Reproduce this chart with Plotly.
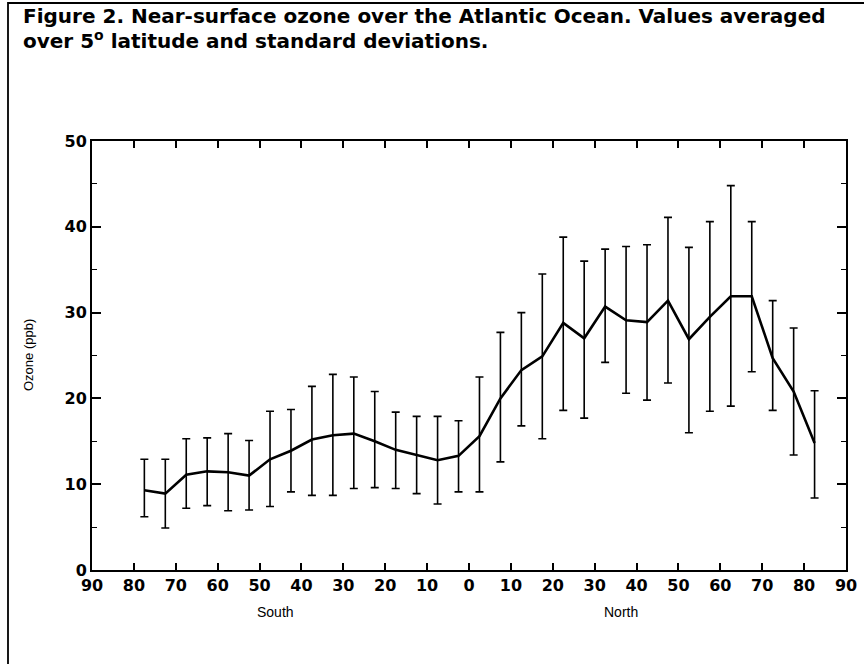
import plotly.graph_objects as go

# Latitude bin centres (negative = South)
latitude = [-77.5, -72.5, -67.5, -62.5, -57.5, -52.5, -47.5, -42.5, -37.5, -32.5, -27.5,
            -22.5, -17.5, -12.5, -7.5, -2.5, 2.5, 7.5, 12.5, 17.5, 22.5, 27.5, 32.5,
            37.5, 42.5, 47.5, 52.5, 57.5, 62.5, 67.5, 72.5, 77.5, 82.5]
ozone_mean = [9.3, 8.9, 11.1, 11.5, 11.4, 11.0, 12.9, 13.9, 15.2, 15.7, 15.9,
              15.0, 14.0, 13.4, 12.8, 13.3, 15.6, 20.0, 23.3, 24.9, 28.8, 27.0, 30.7,
              29.1, 28.9, 31.4, 26.9, 29.5, 31.9, 31.9, 24.7, 20.8, 14.8]
ozone_upper = [12.9, 12.9, 15.3, 15.4, 15.9, 15.1, 18.5, 18.7, 21.4, 22.8, 22.5,
               20.8, 18.4, 17.9, 17.9, 17.4, 22.5, 27.7, 30.0, 34.5, 38.8, 36.0, 37.4,
               37.7, 37.9, 41.1, 37.6, 40.6, 44.8, 40.6, 31.4, 28.2, 20.9]
ozone_lower = [6.2, 4.9, 7.2, 7.5, 6.9, 7.0, 7.4, 9.1, 8.7, 8.7, 9.5,
               9.6, 9.5, 8.9, 7.7, 9.1, 9.1, 12.6, 16.8, 15.3, 18.6, 17.7, 24.2,
               20.6, 19.8, 21.8, 16.0, 18.5, 19.1, 23.1, 18.6, 13.4, 8.4]

x_tick_vals = list(range(-90, 91, 10))
x_tick_text = ["90", "80", "70", "60", "50", "40", "30", "20", "10", "0",
               "10", "20", "30", "40", "50", "60", "70", "80", "90"]
y_tick_vals = [0, 10, 20, 30, 40, 50]

title_lines = ["Figure 2. Near-surface ozone over the Atlantic Ocean. Values averaged",
               "over 5<sup>o</sup> latitude and standard deviations."]

err_plus = [u - m for u, m in zip(ozone_upper, ozone_mean)]
err_minus = [m - l for m, l in zip(ozone_mean, ozone_lower)]

W, H = 864, 664
ML, MR, MT, MB = 92, 18, 141, 94
PW, PH = W - ML - MR, H - MT - MB


def px_x(p):
    return (p - ML) / PW


def px_y(p):
    return (H - MB - p) / PH


fig = go.Figure()
fig.add_trace(go.Scatter(
    x=latitude, y=ozone_mean, mode="lines",
    line=dict(color="black", width=2.6),
    error_y=dict(type="data", symmetric=False, array=err_plus, arrayminus=err_minus,
                 color="black", thickness=1.6, width=4),
    showlegend=False, hoverinfo="x+y",
))

tickfont = dict(family="DejaVu Sans, sans-serif", size=16, color="black", weight="bold")

fig.update_layout(
    width=W, height=H,
    margin=dict(l=ML, r=MR, t=MT, b=MB, pad=0),
    paper_bgcolor="white", plot_bgcolor="white",
    xaxis=dict(
        range=[-90, 90], tickvals=x_tick_vals, ticktext=x_tick_text,
        ticks="inside", ticklen=7, tickwidth=1.5, tickcolor="black",
        showline=True, linecolor="black", linewidth=2, mirror="ticks",
        showgrid=False, zeroline=False, tickfont=tickfont, automargin=False,
    ),
    yaxis=dict(
        range=[0, 50], tickvals=y_tick_vals,
        ticks="inside", ticklen=9, tickwidth=1.5, tickcolor="black",
        minor=dict(dtick=5, ticks="inside", ticklen=5, tickwidth=1.2, tickcolor="black"),
        showline=True, linecolor="black", linewidth=2, mirror="ticks",
        showgrid=False, zeroline=False, tickfont=tickfont, automargin=False,
    ),
)

title_font = dict(family="DejaVu Sans, sans-serif", size=20, color="black", weight="bold")
for line_text, yc in zip(title_lines, [16, 40]):
    fig.add_annotation(
        text=line_text, xref="paper", yref="paper", x=px_x(21), y=px_y(yc),
        xanchor="left", yanchor="middle", align="left", showarrow=False, font=title_font,
    )

fig.add_annotation(
    text="Ozone (ppb)", xref="paper", yref="paper", x=px_x(28), y=px_y(355),
    textangle=-90, showarrow=False, xanchor="center", yanchor="middle",
    font=dict(family="Liberation Sans, Arial, sans-serif", size=13, color="black"),
)

label_font = dict(family="Liberation Sans, Arial, sans-serif", size=14, color="black")
fig.add_annotation(text="South", x=px_x(255), y=px_y(612), xref="paper", yref="paper",
                   showarrow=False, font=label_font, yanchor="middle")
fig.add_annotation(text="North", x=px_x(640), y=px_y(612), xref="paper", yref="paper",
                   showarrow=False, font=label_font, yanchor="middle")

# outer figure frame (left and top edges)
frame_path = "M {x0},{y0} L {x0},{y1} L {x2},{y1}".format(
    x0=px_x(8), y0=px_y(664), y1=px_y(3), x2=px_x(864))
fig.add_shape(type="path", xref="paper", yref="paper", path=frame_path,
              line=dict(color="black", width=1.8), layer="above")

fig.write_html("out.html", config={"displayModeBar": False},
               post_script="document.body.style.margin='0';")
